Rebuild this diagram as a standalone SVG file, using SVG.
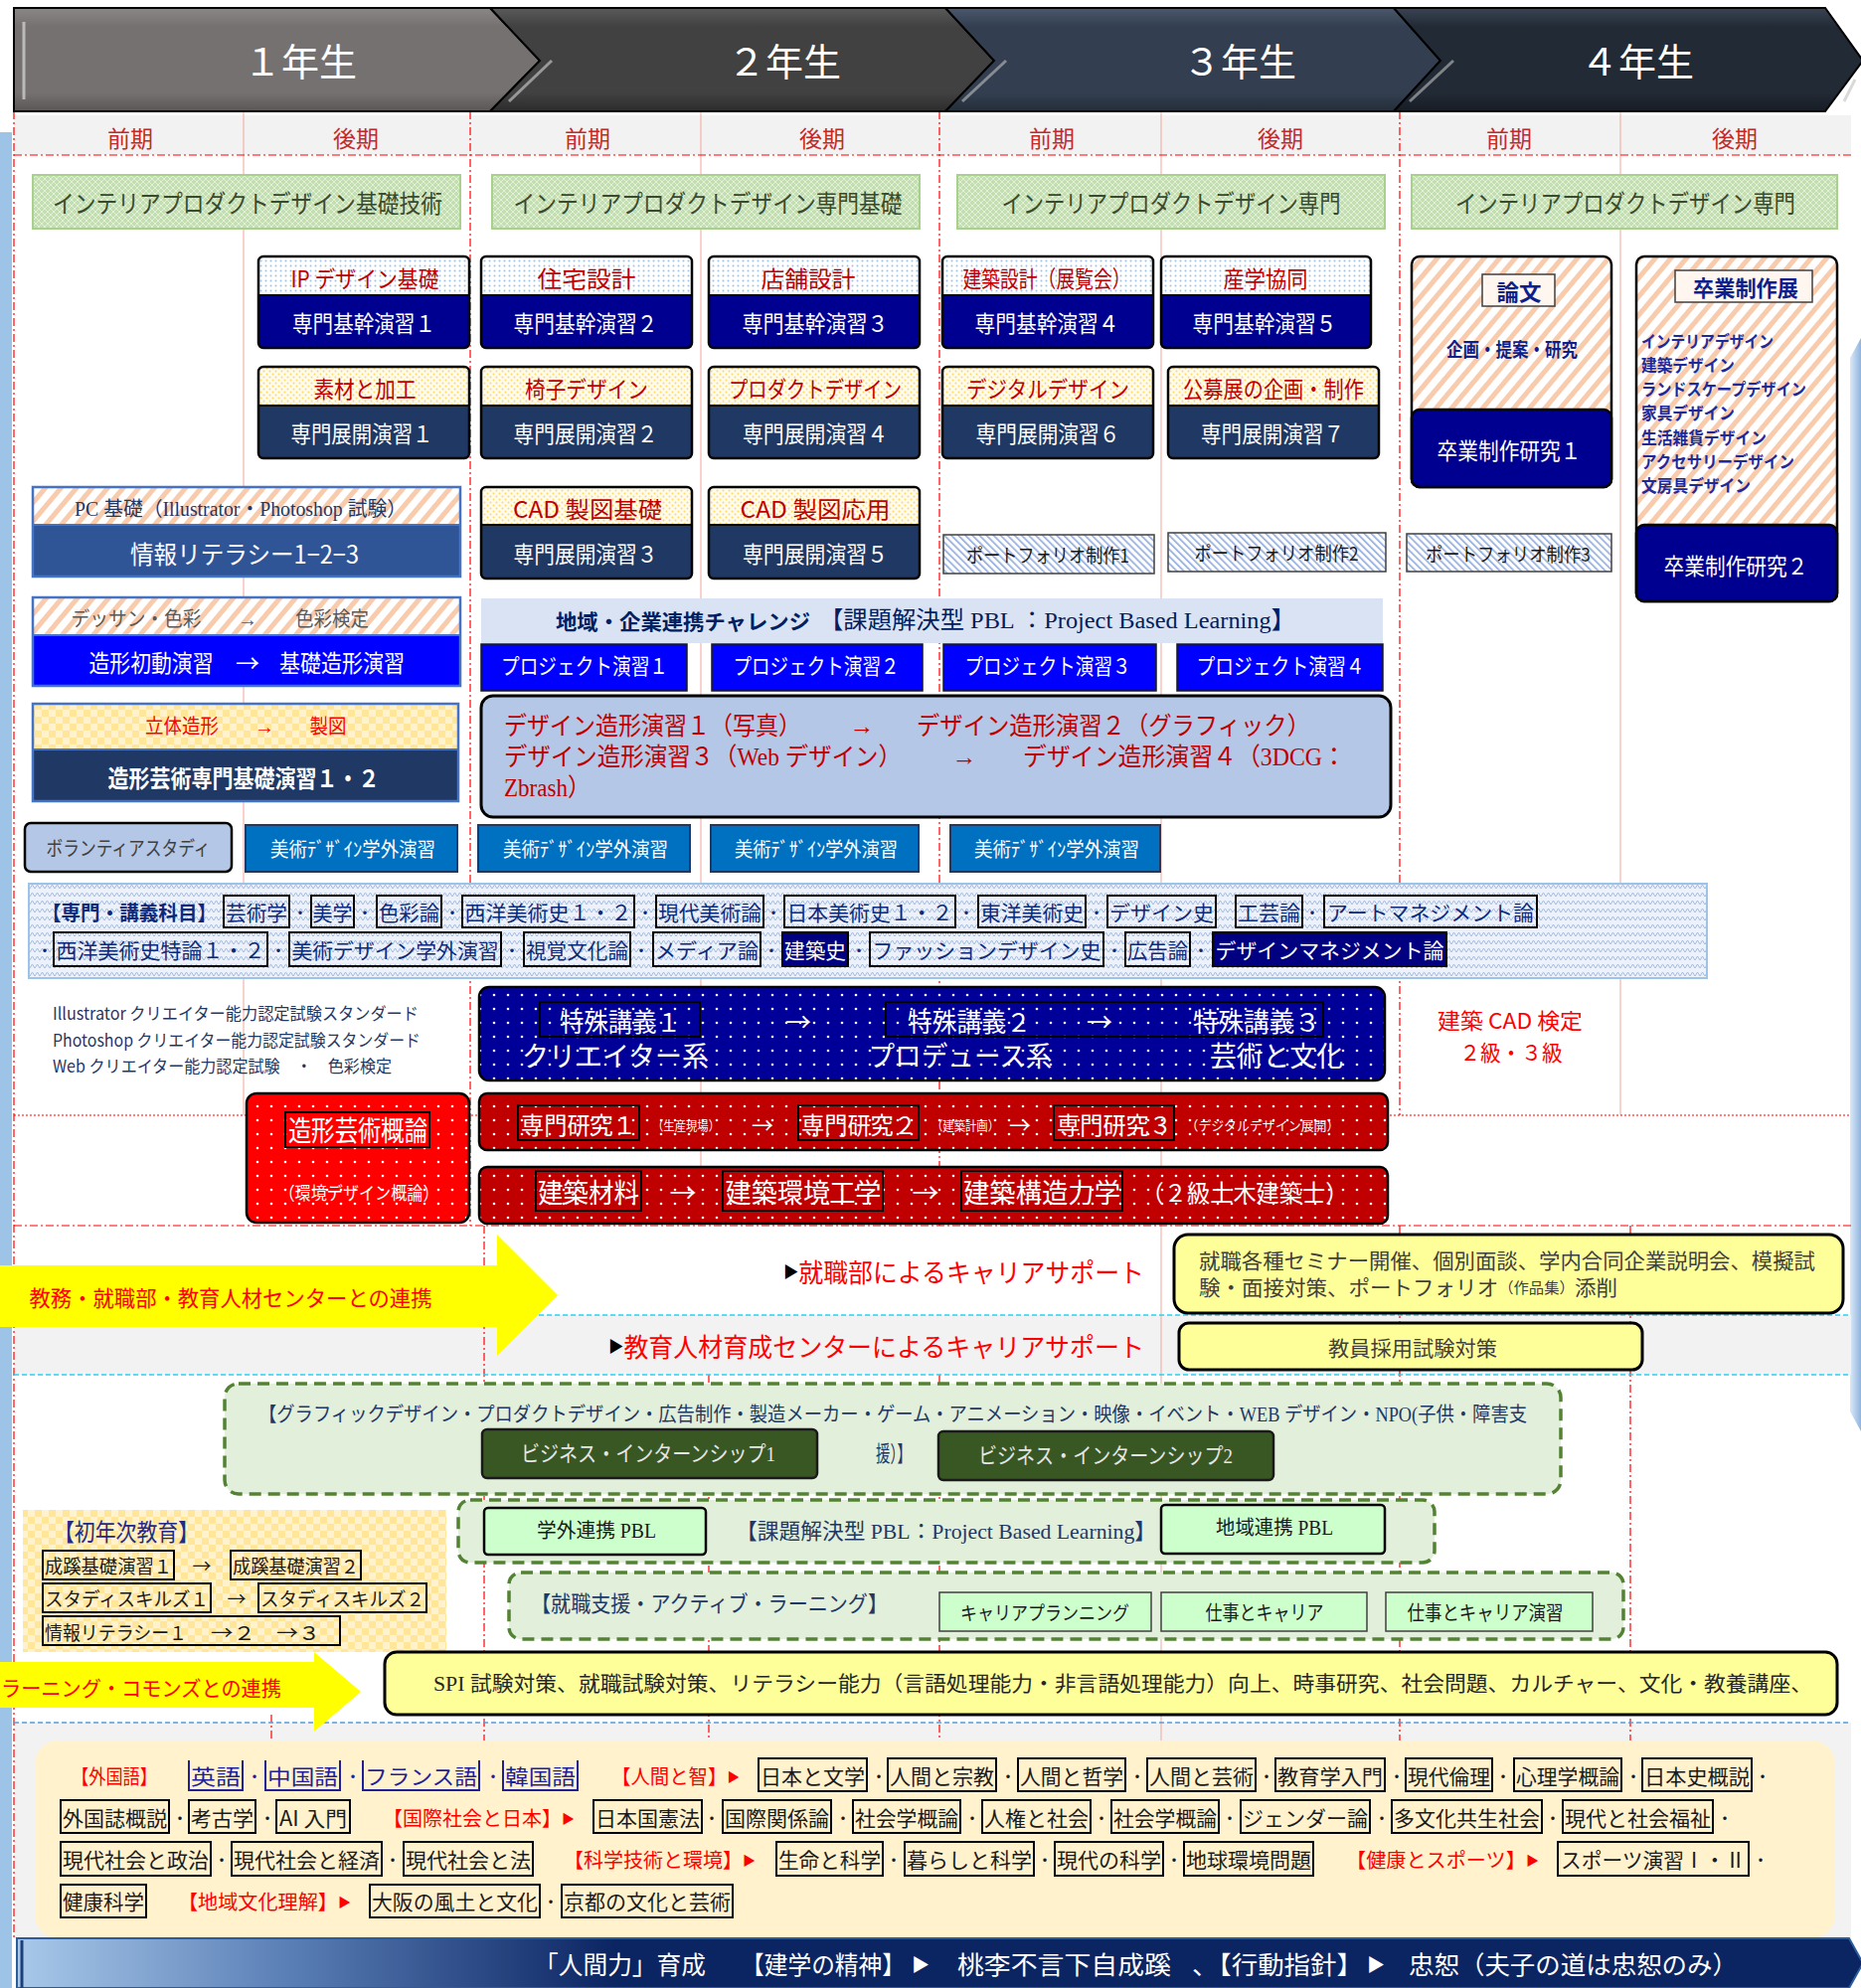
<svg xmlns="http://www.w3.org/2000/svg" width="1872" height="2000" viewBox="0 0 1872 2000">
<defs>
<linearGradient id="g1" x1="0" y1="0" x2="0" y2="1"><stop offset="0" stop-color="#8c8787"/><stop offset="0.18" stop-color="#767171"/><stop offset="0.82" stop-color="#767171"/><stop offset="1" stop-color="#5a5656"/></linearGradient>
<linearGradient id="g2" x1="0" y1="0" x2="0" y2="1"><stop offset="0" stop-color="#5a5a5a"/><stop offset="0.18" stop-color="#414141"/><stop offset="0.82" stop-color="#414141"/><stop offset="1" stop-color="#2c2c2c"/></linearGradient>
<linearGradient id="g3" x1="0" y1="0" x2="0" y2="1"><stop offset="0" stop-color="#4a586d"/><stop offset="0.18" stop-color="#333f50"/><stop offset="0.82" stop-color="#333f50"/><stop offset="1" stop-color="#242d39"/></linearGradient>
<linearGradient id="g4" x1="0" y1="0" x2="0" y2="1"><stop offset="0" stop-color="#3a4454"/><stop offset="0.18" stop-color="#222a35"/><stop offset="0.82" stop-color="#222a35"/><stop offset="1" stop-color="#171c24"/></linearGradient>
<linearGradient id="gBan" gradientUnits="userSpaceOnUse" x1="17" y1="0" x2="620" y2="0"><stop offset="0" stop-color="#a9c9ea"/><stop offset="0.45" stop-color="#5a7fb6"/><stop offset="1" stop-color="#0b2462"/></linearGradient>
<linearGradient id="gRight" x1="0" y1="0" x2="1" y2="0"><stop offset="0" stop-color="#dbe9f7"/><stop offset="1" stop-color="#8fb4de"/></linearGradient>
<pattern id="pGreen" width="6" height="6" patternUnits="userSpaceOnUse"><rect width="6" height="6" fill="#c3deb0"/><path d="M0 3 L3 0 L6 3 L3 6 Z" fill="none" stroke="#e6f2dd" stroke-width="0.9"/></pattern>
<pattern id="pBlueDot" width="5" height="5" patternUnits="userSpaceOnUse"><rect width="5" height="5" fill="#ffffff"/><circle cx="2.5" cy="2.5" r="1" fill="#9dc3e6"/></pattern>
<pattern id="pYelDot" width="6" height="6" patternUnits="userSpaceOnUse"><rect width="6" height="6" fill="#fffbea"/><circle cx="1.5" cy="1.5" r="1" fill="#ffd966"/><circle cx="4.5" cy="4.5" r="1" fill="#ffd966"/></pattern>
<pattern id="pOrStripe" width="12" height="12" patternUnits="userSpaceOnUse" patternTransform="rotate(40)"><rect width="12" height="12" fill="#ffffff"/><rect width="5" height="12" fill="#f8cbad"/></pattern>
<pattern id="pBlueStripe" width="5" height="5" patternUnits="userSpaceOnUse" patternTransform="rotate(-45)"><rect width="5" height="5" fill="#ffffff"/><rect width="1.6" height="5" fill="#8faadc"/></pattern>
<pattern id="pChecker" width="14" height="14" patternUnits="userSpaceOnUse"><rect width="14" height="14" fill="#fff2cc"/><rect width="7" height="7" fill="#ffe699"/><rect x="7" y="7" width="7" height="7" fill="#ffe699"/></pattern>
<pattern id="pZig" width="10" height="8" patternUnits="userSpaceOnUse"><rect width="10" height="8" fill="#edf2fa"/><path d="M0 6 L2.5 2 L5 6 L7.5 2 L10 6" fill="none" stroke="#a3bce3" stroke-width="1"/></pattern>
<pattern id="pNavyDot" width="14" height="14" patternUnits="userSpaceOnUse"><rect width="14" height="14" fill="#000099"/><circle cx="7" cy="7" r="1.3" fill="#ffffff"/></pattern>
<pattern id="pRedDot" width="14" height="14" patternUnits="userSpaceOnUse"><rect width="14" height="14" fill="#ff0000"/><circle cx="7" cy="7" r="1.3" fill="#ffffff"/></pattern>
<pattern id="pDRedDot" width="14" height="14" patternUnits="userSpaceOnUse"><rect width="14" height="14" fill="#c00000"/><circle cx="7" cy="7" r="1.3" fill="#ffffff"/></pattern>
</defs>
<style>
text{font-family:"Noto Sans CJK JP","Liberation Sans",sans-serif;dominant-baseline:central}
.m{text-anchor:middle}
.sf{font-family:"Liberation Serif","Noto Sans CJK JP",serif}
.wh{fill:#ffffff}
.dr{fill:#c00000}
.rd{fill:#ff0000}
.nv{fill:#1f3864}
.bl{fill:#0d2a7a}
.bk{fill:#1a1a1a}
.gy{fill:#404040}
.dt{font-size:16px}
.yr{stroke:#ff0000;stroke-width:1.2;stroke-dasharray:8 3 2 3;fill:none}
.se{stroke:#f2a59c;stroke-width:1;fill:none}
.ib{fill:none;stroke:#000;stroke-width:2}
.ol{fill:none;stroke:#000;stroke-width:2.5}
.dash{fill:#e2efda;stroke:#548235;stroke-width:3.5;stroke-dasharray:12 7}
</style>
<rect width="1872" height="2000" fill="#ffffff"/>

<g id="background">
<rect x="0" y="133" width="12" height="1867" fill="#9dc3e6"/>
<path d="M1861 360 L1872 340 L1872 1440 L1861 1420 Z" fill="url(#gRight)"/>
<rect x="14" y="116" width="1848" height="40" fill="#f2f2f2"/>
<rect x="14" y="1323" width="1848" height="60" fill="#f2f2f2"/>
<rect x="14" y="1733" width="1848" height="217" fill="#f2f2f2"/>
</g>

<g id="grid">
<line class="yr" x1="14" y1="112" x2="14" y2="1950"/>
<line class="yr" x1="473" y1="112" x2="473" y2="1233"/>
<line class="yr" x1="945" y1="112" x2="945" y2="1233"/>
<line class="yr" x1="945" y1="1383" x2="945" y2="1752"/>
<line class="yr" x1="1408" y1="112" x2="1408" y2="1122"/>
<line class="yr" x1="1408" y1="1233" x2="1408" y2="1752"/>
<line class="yr" x1="487" y1="1233" x2="487" y2="1752"/>
<line class="yr" x1="713" y1="1383" x2="713" y2="1752"/>
<line class="yr" x1="1640" y1="1233" x2="1640" y2="1752"/>
<line class="yr" x1="273" y1="1725" x2="273" y2="1752"/>
<line class="se" x1="245" y1="112" x2="245" y2="1122"/>
<line class="se" x1="705" y1="112" x2="705" y2="1233"/>
<line class="se" x1="1168" y1="112" x2="1168" y2="1752"/>
<line class="se" x1="1630" y1="112" x2="1630" y2="1122"/>
<line class="yr" x1="14" y1="156" x2="1862" y2="156"/>
<line x1="14" y1="1122" x2="1862" y2="1122" stroke="#ff0000" stroke-width="1.2" stroke-dasharray="2 2"/>
<line class="yr" x1="14" y1="1233" x2="1862" y2="1233"/>
<line x1="14" y1="1323" x2="1862" y2="1323" stroke="#33ccee" stroke-width="1.5" stroke-dasharray="5 3"/>
<line x1="14" y1="1383" x2="1862" y2="1383" stroke="#33ccee" stroke-width="1.5" stroke-dasharray="5 3"/>
<line x1="14" y1="1733" x2="1862" y2="1733" stroke="#5b9bd5" stroke-width="1.5" stroke-dasharray="5 3"/>
</g>

<g id="header">
<polygon points="14,8 493,8 543,61 493,112 14,112" fill="url(#g1)" stroke="#000" stroke-width="2"/>
<polygon points="493,8 951,8 1000,61 951,112 493,112 543,61" fill="url(#g2)" stroke="#000" stroke-width="2"/>
<polygon points="951,8 1402,8 1449,61 1402,112 951,112 1000,61" fill="url(#g3)" stroke="#000" stroke-width="2"/>
<polygon points="1402,8 1836,8 1874,61 1836,112 1402,112 1449,61" fill="url(#g4)" stroke="#000" stroke-width="2"/>
<line x1="24" y1="22" x2="24" y2="100" stroke="#d9d9d9" stroke-width="3" opacity="0.7"/>
<polyline points="512,102 555,61" fill="none" stroke="#bfbfbf" stroke-width="3" opacity="0.7"/>
<polyline points="968,102 1012,61" fill="none" stroke="#bfbfbf" stroke-width="3" opacity="0.6"/>
<polyline points="1418,102 1462,61" fill="none" stroke="#bfbfbf" stroke-width="3" opacity="0.6"/>
<polyline points="1855,102 1866,80" fill="none" stroke="#bfbfbf" stroke-width="3" opacity="0.6"/>
<text class="m wh" x="302" y="59" font-size="38">１年生</text>
<text class="m wh" x="789" y="59" font-size="38">２年生</text>
<text class="m wh" x="1247" y="59" font-size="38">３年生</text>
<text class="m wh" x="1647" y="59" font-size="38">４年生</text>
</g>

<g id="semesters" fill="#c62828" font-size="23">
<text class="m" x="131" y="138" textLength="46" lengthAdjust="spacingAndGlyphs">前期</text>
<text class="m" x="358" y="138" textLength="46" lengthAdjust="spacingAndGlyphs">後期</text>
<text class="m" x="591" y="138" textLength="46" lengthAdjust="spacingAndGlyphs">前期</text>
<text class="m" x="827" y="138" textLength="46" lengthAdjust="spacingAndGlyphs">後期</text>
<text class="m" x="1058" y="138" textLength="46" lengthAdjust="spacingAndGlyphs">前期</text>
<text class="m" x="1288" y="138" textLength="46" lengthAdjust="spacingAndGlyphs">後期</text>
<text class="m" x="1518" y="138" textLength="46" lengthAdjust="spacingAndGlyphs">前期</text>
<text class="m" x="1745" y="138" textLength="46" lengthAdjust="spacingAndGlyphs">後期</text>
</g>

<g id="ipd-kiso">
<rect x="33" y="176" width="430" height="54" fill="url(#pGreen)" stroke="#a9d18e" stroke-width="2"/>
<text class="m" x="249" y="203" font-size="25" fill="#3a4a2e" textLength="392" lengthAdjust="spacingAndGlyphs">インテリアプロダクトデザイン基礎技術</text>
</g>
<g id="ipd-senmonkiso">
<rect x="495" y="176" width="430" height="54" fill="url(#pGreen)" stroke="#a9d18e" stroke-width="2"/>
<text class="m" x="712" y="203" font-size="25" fill="#3a4a2e" textLength="391" lengthAdjust="spacingAndGlyphs">インテリアプロダクトデザイン専門基礎</text>
</g>
<g id="ipd-senmon3">
<rect x="963" y="176" width="430" height="54" fill="url(#pGreen)" stroke="#a9d18e" stroke-width="2"/>
<text class="m" x="1178" y="203" font-size="25" fill="#3a4a2e" textLength="341" lengthAdjust="spacingAndGlyphs">インテリアプロダクトデザイン専門</text>
</g>
<g id="ipd-senmon4">
<rect x="1420" y="176" width="428" height="54" fill="url(#pGreen)" stroke="#a9d18e" stroke-width="2"/>
<text class="m" x="1635" y="203" font-size="25" fill="#3a4a2e" textLength="342" lengthAdjust="spacingAndGlyphs">インテリアプロダクトデザイン専門</text>
</g>

<g id="kikan1">
<rect x="260" y="258" width="212" height="92" rx="5" fill="#000090"/>
<rect x="261" y="259" width="210" height="38" fill="url(#pBlueDot)"/>
<rect class="ol" x="260" y="258" width="212" height="92" rx="5"/>
<line x1="260" y1="297" x2="472" y2="297" stroke="#000" stroke-width="2"/>
<text class="m dr" x="367" y="279" font-size="23" textLength="149" lengthAdjust="spacingAndGlyphs">IP デザイン基礎</text>
<text class="m wh" x="366" y="324" font-size="23" textLength="144" lengthAdjust="spacingAndGlyphs">専門基幹演習１</text>
</g>
<g id="kikan2">
<rect x="484" y="258" width="212" height="92" rx="5" fill="#000090"/>
<rect x="485" y="259" width="210" height="38" fill="url(#pBlueDot)"/>
<rect class="ol" x="484" y="258" width="212" height="92" rx="5"/>
<line x1="484" y1="297" x2="696" y2="297" stroke="#000" stroke-width="2"/>
<text class="m dr" x="590" y="279" font-size="23" textLength="99" lengthAdjust="spacingAndGlyphs">住宅設計</text>
<text class="m wh" x="589" y="324" font-size="23" textLength="145" lengthAdjust="spacingAndGlyphs">専門基幹演習２</text>
</g>
<g id="kikan3">
<rect x="713" y="258" width="212" height="92" rx="5" fill="#000090"/>
<rect x="714" y="259" width="210" height="38" fill="url(#pBlueDot)"/>
<rect class="ol" x="713" y="258" width="212" height="92" rx="5"/>
<line x1="713" y1="297" x2="925" y2="297" stroke="#000" stroke-width="2"/>
<text class="m dr" x="813" y="279" font-size="23" textLength="95" lengthAdjust="spacingAndGlyphs">店舗設計</text>
<text class="m wh" x="820" y="324" font-size="23" textLength="147" lengthAdjust="spacingAndGlyphs">専門基幹演習３</text>
</g>
<g id="kikan4">
<rect x="948" y="258" width="212" height="92" rx="5" fill="#000090"/>
<rect x="949" y="259" width="210" height="38" fill="url(#pBlueDot)"/>
<rect class="ol" x="948" y="258" width="212" height="92" rx="5"/>
<line x1="948" y1="297" x2="1160" y2="297" stroke="#000" stroke-width="2"/>
<text class="m dr" x="1053" y="279" font-size="23" textLength="169" lengthAdjust="spacingAndGlyphs">建築設計（展覧会）</text>
<text class="m wh" x="1053" y="324" font-size="23" textLength="145" lengthAdjust="spacingAndGlyphs">専門基幹演習４</text>
</g>
<g id="kikan5">
<rect x="1168" y="258" width="211" height="92" rx="5" fill="#000090"/>
<rect x="1169" y="259" width="209" height="38" fill="url(#pBlueDot)"/>
<rect class="ol" x="1168" y="258" width="211" height="92" rx="5"/>
<line x1="1168" y1="297" x2="1379" y2="297" stroke="#000" stroke-width="2"/>
<text class="m dr" x="1273" y="279" font-size="23" textLength="85" lengthAdjust="spacingAndGlyphs">産学協同</text>
<text class="m wh" x="1272" y="324" font-size="23" textLength="145" lengthAdjust="spacingAndGlyphs">専門基幹演習５</text>
</g>

<g id="tenkai1">
<rect x="260" y="369" width="212" height="92" rx="5" fill="#1f3864"/>
<rect x="261" y="370" width="210" height="38" fill="url(#pYelDot)"/>
<rect class="ol" x="260" y="369" width="212" height="92" rx="5"/>
<line x1="260" y1="408" x2="472" y2="408" stroke="#000" stroke-width="2"/>
<text class="m dr" x="367" y="390" font-size="23" textLength="103" lengthAdjust="spacingAndGlyphs">素材と加工</text>
<text class="m wh" x="364" y="435" font-size="23" textLength="143" lengthAdjust="spacingAndGlyphs">専門展開演習１</text>
</g>
<g id="tenkai2">
<rect x="484" y="369" width="212" height="92" rx="5" fill="#1f3864"/>
<rect x="485" y="370" width="210" height="38" fill="url(#pYelDot)"/>
<rect class="ol" x="484" y="369" width="212" height="92" rx="5"/>
<line x1="484" y1="408" x2="696" y2="408" stroke="#000" stroke-width="2"/>
<text class="m dr" x="590" y="390" font-size="23" textLength="124" lengthAdjust="spacingAndGlyphs">椅子デザイン</text>
<text class="m wh" x="589" y="435" font-size="23" textLength="145" lengthAdjust="spacingAndGlyphs">専門展開演習２</text>
</g>
<g id="tenkai4">
<rect x="713" y="369" width="212" height="92" rx="5" fill="#1f3864"/>
<rect x="714" y="370" width="210" height="38" fill="url(#pYelDot)"/>
<rect class="ol" x="713" y="369" width="212" height="92" rx="5"/>
<line x1="713" y1="408" x2="925" y2="408" stroke="#000" stroke-width="2"/>
<text class="m dr" x="820" y="390" font-size="23" textLength="174" lengthAdjust="spacingAndGlyphs">プロダクトデザイン</text>
<text class="m wh" x="820" y="435" font-size="23" textLength="146" lengthAdjust="spacingAndGlyphs">専門展開演習４</text>
</g>
<g id="tenkai6">
<rect x="948" y="369" width="212" height="92" rx="5" fill="#1f3864"/>
<rect x="949" y="370" width="210" height="38" fill="url(#pYelDot)"/>
<rect class="ol" x="948" y="369" width="212" height="92" rx="5"/>
<line x1="948" y1="408" x2="1160" y2="408" stroke="#000" stroke-width="2"/>
<text class="m dr" x="1054" y="390" font-size="23" textLength="164" lengthAdjust="spacingAndGlyphs">デジタルデザイン</text>
<text class="m wh" x="1054" y="435" font-size="23" textLength="145" lengthAdjust="spacingAndGlyphs">専門展開演習６</text>
</g>
<g id="tenkai7">
<rect x="1175" y="369" width="212" height="92" rx="5" fill="#1f3864"/>
<rect x="1176" y="370" width="210" height="38" fill="url(#pYelDot)"/>
<rect class="ol" x="1175" y="369" width="212" height="92" rx="5"/>
<line x1="1175" y1="408" x2="1387" y2="408" stroke="#000" stroke-width="2"/>
<text class="m dr" x="1281" y="390" font-size="23" textLength="182" lengthAdjust="spacingAndGlyphs">公募展の企画・制作</text>
<text class="m wh" x="1280" y="435" font-size="23" textLength="144" lengthAdjust="spacingAndGlyphs">専門展開演習７</text>
</g>
<g id="tenkai3">
<rect x="484" y="490" width="212" height="92" rx="5" fill="#1f3864"/>
<rect x="485" y="491" width="210" height="37" fill="url(#pYelDot)"/>
<rect class="ol" x="484" y="490" width="212" height="92" rx="5"/>
<line x1="484" y1="528" x2="696" y2="528" stroke="#000" stroke-width="2"/>
<text class="m dr" x="591" y="511" font-size="23" textLength="150" lengthAdjust="spacingAndGlyphs">CAD 製図基礎</text>
<text class="m wh" x="589" y="556" font-size="23" textLength="145" lengthAdjust="spacingAndGlyphs">専門展開演習３</text>
</g>
<g id="tenkai5">
<rect x="713" y="490" width="212" height="92" rx="5" fill="#1f3864"/>
<rect x="714" y="491" width="210" height="37" fill="url(#pYelDot)"/>
<rect class="ol" x="713" y="490" width="212" height="92" rx="5"/>
<line x1="713" y1="528" x2="925" y2="528" stroke="#000" stroke-width="2"/>
<text class="m dr" x="820" y="511" font-size="23" textLength="151" lengthAdjust="spacingAndGlyphs">CAD 製図応用</text>
<text class="m wh" x="820" y="556" font-size="23" textLength="146" lengthAdjust="spacingAndGlyphs">専門展開演習５</text>
</g>

<g id="pc-kiso">
<rect x="33" y="490" width="430" height="38" fill="url(#pOrStripe)"/>
<rect x="33" y="528" width="430" height="52" fill="#2f5597"/>
<rect x="33" y="490" width="430" height="90" fill="none" stroke="#4472c4" stroke-width="2.5"/>
<line x1="33" y1="528" x2="463" y2="528" stroke="#4472c4" stroke-width="2"/>
<text class="m sf nv" x="242" y="512" font-size="20" textLength="334" lengthAdjust="spacingAndGlyphs">PC 基礎（Illustrator・Photoshop 試験）</text>
<text class="m wh" x="246" y="556" font-size="25" textLength="230" lengthAdjust="spacingAndGlyphs">情報リテラシー1−2−3</text>
</g>
<g id="zoukei-shodou">
<rect x="33" y="601" width="430" height="38" fill="url(#pOrStripe)"/>
<rect x="33" y="639" width="430" height="51" fill="#0000ff"/>
<rect x="33" y="601" width="430" height="89" fill="none" stroke="#4472c4" stroke-width="2.5"/>
<line x1="33" y1="639" x2="463" y2="639" stroke="#4472c4" stroke-width="2"/>
<text class="m sf" fill="#595959" x="137" y="623" font-size="20" textLength="131" lengthAdjust="spacingAndGlyphs">デッサン・色彩</text>
<text class="m sf" fill="#595959" x="249" y="623" font-size="20">→</text>
<text class="m sf" fill="#595959" x="334" y="623" font-size="20" textLength="74" lengthAdjust="spacingAndGlyphs">色彩検定</text>
<text class="m wh" x="152" y="665" font-size="24" textLength="125" lengthAdjust="spacingAndGlyphs">造形初動演習</text>
<text class="m wh" x="249" y="665" font-size="24">→</text>
<text class="m wh" x="344" y="665" font-size="24" textLength="126" lengthAdjust="spacingAndGlyphs">基礎造形演習</text>
</g>
<g id="zoukei-kiso">
<rect x="33" y="708" width="428" height="46" fill="url(#pChecker)"/>
<rect x="33" y="754" width="428" height="52" fill="#1f3864"/>
<rect x="33" y="708" width="428" height="98" fill="none" stroke="#4472c4" stroke-width="2.5"/>
<line x1="33" y1="754" x2="461" y2="754" stroke="#4472c4" stroke-width="2"/>
<text class="m sf rd" x="183" y="731" font-size="20" textLength="74" lengthAdjust="spacingAndGlyphs">立体造形</text>
<text class="m sf rd" x="266" y="731" font-size="20">→</text>
<text class="m sf rd" x="330" y="731" font-size="20" textLength="37" lengthAdjust="spacingAndGlyphs">製図</text>
<text class="m wh" x="245" y="781" font-size="24" font-weight="700" textLength="273" lengthAdjust="spacingAndGlyphs">造形芸術専門基礎演習１・２</text>
</g>

<g id="chiiki-challenge">
<rect x="484" y="602" width="907" height="45" fill="#dae3f3"/>
<text x="559" y="624" font-size="21" font-weight="700" fill="#002060" textLength="256" lengthAdjust="spacingAndGlyphs">地域・企業連携チャレンジ</text>
<text class="sf" x="824" y="624" font-size="24" fill="#002060" textLength="479" lengthAdjust="spacingAndGlyphs">【課題解決型 PBL ：Project Based Learning】</text>
</g>
<g id="project1"><rect x="484" y="648" width="207" height="47" fill="#0000ff" stroke="#1a1a1a" stroke-width="1.5"/><text class="m sf wh" x="588" y="670" font-size="22" textLength="168" lengthAdjust="spacingAndGlyphs">プロジェクト演習１</text></g>
<g id="project2"><rect x="716" y="648" width="212" height="47" fill="#0000ff" stroke="#1a1a1a" stroke-width="1.5"/><text class="m sf wh" x="821" y="670" font-size="22" textLength="167" lengthAdjust="spacingAndGlyphs">プロジェクト演習２</text></g>
<g id="project3"><rect x="949" y="648" width="214" height="47" fill="#0000ff" stroke="#1a1a1a" stroke-width="1.5"/><text class="m sf wh" x="1054" y="670" font-size="22" textLength="167" lengthAdjust="spacingAndGlyphs">プロジェクト演習３</text></g>
<g id="project4"><rect x="1184" y="648" width="207" height="47" fill="#0000ff" stroke="#1a1a1a" stroke-width="1.5"/><text class="m sf wh" x="1288" y="670" font-size="22" textLength="169" lengthAdjust="spacingAndGlyphs">プロジェクト演習４</text></g>

<g id="portfolio1"><rect x="949" y="538" width="212" height="39" fill="url(#pBlueStripe)" stroke="#404040" stroke-width="1.5"/><text class="m bk" x="1054" y="557" font-size="19" textLength="164" lengthAdjust="spacingAndGlyphs">ポートフォリオ制作1</text></g>
<g id="portfolio2"><rect x="1175" y="536" width="219" height="39" fill="url(#pBlueStripe)" stroke="#404040" stroke-width="1.5"/><text class="m bk" x="1284" y="555" font-size="19" textLength="165" lengthAdjust="spacingAndGlyphs">ポートフォリオ制作2</text></g>
<g id="portfolio3"><rect x="1415" y="537" width="206" height="38" fill="url(#pBlueStripe)" stroke="#404040" stroke-width="1.5"/><text class="m bk" x="1517" y="556" font-size="19" textLength="166" lengthAdjust="spacingAndGlyphs">ポートフォリオ制作3</text></g>

<g id="sotsuken1">
<rect x="1420" y="258" width="201" height="232" rx="8" fill="url(#pOrStripe)" stroke="#000" stroke-width="2.5"/>
<rect x="1420" y="412" width="201" height="78" rx="8" fill="#000090" stroke="#000" stroke-width="2.5"/>
<rect x="1491" y="276" width="73" height="32" fill="#fff6ef" stroke="#404040" stroke-width="1.5"/>
<text class="m" x="1528" y="292" font-size="22" font-weight="700" fill="#0d1f8c" textLength="45" lengthAdjust="spacingAndGlyphs">論文</text>
<text class="m" x="1521" y="350" font-size="19" font-weight="700" fill="#0d1f8c" textLength="132" lengthAdjust="spacingAndGlyphs">企画・提案・研究</text>
<text class="m wh" x="1518" y="452" font-size="23" textLength="145" lengthAdjust="spacingAndGlyphs">卒業制作研究１</text>
</g>
<g id="sotsuken2">
<rect x="1646" y="258" width="202" height="347" rx="8" fill="url(#pOrStripe)" stroke="#000" stroke-width="2.5"/>
<rect x="1646" y="528" width="202" height="77" rx="8" fill="#000090" stroke="#000" stroke-width="2.5"/>
<rect x="1685" y="272" width="138" height="32" fill="#fff6ef" stroke="#404040" stroke-width="1.5"/>
<text class="m" x="1756" y="288" font-size="22" font-weight="700" fill="#0d1f8c" textLength="106" lengthAdjust="spacingAndGlyphs">卒業制作展</text>
<g font-size="17" font-weight="700" fill="#1c2a9a">
<text x="1651" y="342" textLength="133" lengthAdjust="spacingAndGlyphs">インテリアデザイン</text>
<text x="1651" y="366" textLength="94" lengthAdjust="spacingAndGlyphs">建築デザイン</text>
<text x="1651" y="390" textLength="166" lengthAdjust="spacingAndGlyphs">ランドスケープデザイン</text>
<text x="1651" y="414" textLength="94" lengthAdjust="spacingAndGlyphs">家具デザイン</text>
<text x="1651" y="439" textLength="126" lengthAdjust="spacingAndGlyphs">生活雑貨デザイン</text>
<text x="1651" y="463" textLength="154" lengthAdjust="spacingAndGlyphs">アクセサリーデザイン</text>
<text x="1651" y="487" textLength="110" lengthAdjust="spacingAndGlyphs">文房具デザイン</text>
</g>
<text class="m wh" x="1746" y="568" font-size="23" textLength="145" lengthAdjust="spacingAndGlyphs">卒業制作研究２</text>
</g>

<g id="design-zoukei">
<rect x="484" y="700" width="915" height="122" rx="12" fill="#b4c7e7" stroke="#000" stroke-width="3"/>
<g class="dr" font-size="25">
<text class="sf" x="507" y="730" textLength="299" lengthAdjust="spacingAndGlyphs">デザイン造形演習１（写真）</text>
<text class="m sf" x="867" y="730">→</text>
<text class="sf" x="922" y="730" textLength="396" lengthAdjust="spacingAndGlyphs">デザイン造形演習２（グラフィック）</text>
<text class="sf" x="507" y="761" textLength="400" lengthAdjust="spacingAndGlyphs">デザイン造形演習３（Web デザイン）</text>
<text class="m sf" x="970" y="761">→</text>
<text class="sf" x="1029" y="761" textLength="325" lengthAdjust="spacingAndGlyphs">デザイン造形演習４（3DCG：</text>
<text class="sf" x="507" y="792" textLength="87" lengthAdjust="spacingAndGlyphs">Zbrash）</text>
</g>
</g>

<g id="volunteer"><rect x="25" y="828" width="208" height="49" rx="6" fill="#b4c7e7" stroke="#000" stroke-width="2.5"/><text class="m gy" x="129" y="852" font-size="20" textLength="165" lengthAdjust="spacingAndGlyphs">ボランティアスタディ</text></g>
<g id="gakugai1"><rect x="247" y="830" width="213" height="47" fill="#0070c0" stroke="#1f3864" stroke-width="2"/><text class="m wh" x="355" y="853" font-size="20" textLength="166" lengthAdjust="spacingAndGlyphs">美術ﾃﾞｻﾞｲﾝ学外演習</text></g>
<g id="gakugai2"><rect x="481" y="830" width="213" height="47" fill="#0070c0" stroke="#1f3864" stroke-width="2"/><text class="m wh" x="589" y="853" font-size="20" textLength="166" lengthAdjust="spacingAndGlyphs">美術ﾃﾞｻﾞｲﾝ学外演習</text></g>
<g id="gakugai3"><rect x="715" y="830" width="209" height="47" fill="#0070c0" stroke="#1f3864" stroke-width="2"/><text class="m wh" x="821" y="853" font-size="20" textLength="164" lengthAdjust="spacingAndGlyphs">美術ﾃﾞｻﾞｲﾝ学外演習</text></g>
<g id="gakugai4"><rect x="956" y="830" width="211" height="47" fill="#0070c0" stroke="#1f3864" stroke-width="2"/><text class="m wh" x="1063" y="853" font-size="20" textLength="166" lengthAdjust="spacingAndGlyphs">美術ﾃﾞｻﾞｲﾝ学外演習</text></g>

<g id="senmon-kougi" font-size="21">
<rect x="29" y="889" width="1688" height="95" fill="url(#pZig)" stroke="#9dc3e6" stroke-width="2"/>
<text class="bl" x="42" y="917" font-size="20" font-weight="700" textLength="176" lengthAdjust="spacingAndGlyphs">【専門・講義科目】</text>
<g class="bl">
<rect class="ib" x="225" y="901" width="66" height="32"/><text class="m" x="258" y="917" textLength="62" lengthAdjust="spacingAndGlyphs">芸術学</text>
<text class="m dt" x="302" y="917">・</text>
<rect class="ib" x="313" y="901" width="43" height="32"/><text class="m" x="334.5" y="917" textLength="40" lengthAdjust="spacingAndGlyphs">美学</text>
<text class="m dt" x="367" y="917">・</text>
<rect class="ib" x="379" y="901" width="65" height="32"/><text class="m" x="411.5" y="917" textLength="61" lengthAdjust="spacingAndGlyphs">色彩論</text>
<text class="m dt" x="455" y="917">・</text>
<rect class="ib" x="465" y="901" width="173" height="32"/><text class="m" x="551.5" y="917" textLength="168" lengthAdjust="spacingAndGlyphs">西洋美術史１・２</text>
<text class="m dt" x="649" y="917">・</text>
<rect class="ib" x="660" y="901" width="108" height="32"/><text class="m" x="714" y="917" textLength="104" lengthAdjust="spacingAndGlyphs">現代美術論</text>
<text class="m dt" x="778" y="917">・</text>
<rect class="ib" x="789" y="901" width="172" height="32"/><text class="m" x="875" y="917" textLength="167" lengthAdjust="spacingAndGlyphs">日本美術史１・２</text>
<text class="m dt" x="972" y="917">・</text>
<rect class="ib" x="984" y="901" width="108" height="32"/><text class="m" x="1038" y="917" textLength="104" lengthAdjust="spacingAndGlyphs">東洋美術史</text>
<text class="m dt" x="1103" y="917">・</text>
<rect class="ib" x="1114" y="901" width="109" height="32"/><text class="m" x="1168.5" y="917" textLength="105" lengthAdjust="spacingAndGlyphs">デザイン史</text>
<rect class="ib" x="1243" y="901" width="67" height="32"/><text class="m" x="1276.5" y="917" textLength="63" lengthAdjust="spacingAndGlyphs">工芸論</text>
<text class="m dt" x="1320" y="917">・</text>
<rect class="ib" x="1332" y="901" width="214" height="32"/><text class="m" x="1439" y="917" textLength="208" lengthAdjust="spacingAndGlyphs">アートマネジメント論</text>
<text class="m dt" x="45" y="955">・</text>
<rect class="ib" x="54" y="938" width="215" height="34"/><text class="m" x="161.5" y="955" textLength="210" lengthAdjust="spacingAndGlyphs">西洋美術史特論１・２</text>
<text class="m dt" x="280" y="955">・</text>
<rect class="ib" x="291" y="938" width="213" height="34"/><text class="m" x="397.5" y="955" textLength="208" lengthAdjust="spacingAndGlyphs">美術デザイン学外演習</text>
<text class="m dt" x="515" y="955">・</text>
<rect class="ib" x="527" y="938" width="107" height="34"/><text class="m" x="580.5" y="955" textLength="103" lengthAdjust="spacingAndGlyphs">視覚文化論</text>
<text class="m dt" x="645" y="955">・</text>
<rect class="ib" x="657" y="938" width="108" height="34"/><text class="m" x="711" y="955" textLength="104" lengthAdjust="spacingAndGlyphs">メディア論</text>
<text class="m dt" x="776" y="955">・</text>
<rect x="787" y="938" width="66" height="34" fill="#000080" stroke="#000" stroke-width="2"/><text class="m wh" x="820" y="955" textLength="62" lengthAdjust="spacingAndGlyphs">建築史</text>
<text class="m dt" x="864" y="955">・</text>
<rect class="ib" x="875" y="938" width="235" height="34"/><text class="m" x="992.5" y="955" textLength="230" lengthAdjust="spacingAndGlyphs">ファッションデザイン史</text>
<text class="m dt" x="1121" y="955">・</text>
<rect class="ib" x="1132" y="938" width="65" height="34"/><text class="m" x="1164.5" y="955" textLength="61" lengthAdjust="spacingAndGlyphs">広告論</text>
<text class="m dt" x="1208" y="955">・</text>
<rect x="1220" y="938" width="235" height="34" fill="#000080" stroke="#000" stroke-width="2"/><text class="m wh" x="1337.5" y="955" textLength="230" lengthAdjust="spacingAndGlyphs">デザインマネジメント論</text>
</g>
</g>

<g id="certifications" class="sf nv" font-size="17">
<text x="53" y="1018" textLength="368" lengthAdjust="spacingAndGlyphs">Illustrator クリエイター能力認定試験スタンダード</text>
<text x="53" y="1045" textLength="370" lengthAdjust="spacingAndGlyphs">Photoshop クリエイター能力認定試験スタンダード</text>
<text x="53" y="1071" textLength="341" lengthAdjust="spacingAndGlyphs">Web クリエイター能力認定試験　・　色彩検定</text>
</g>

<g id="tokushu-kougi">
<rect x="482" y="993" width="911" height="94" rx="10" fill="url(#pNavyDot)" stroke="#000" stroke-width="2.5"/>
<rect class="ib" x="543" y="1008" width="161" height="35"/>
<rect class="ib" x="891" y="1008" width="440" height="35"/>
<g class="wh" font-size="26">
<text class="m" x="624" y="1026" textLength="122" lengthAdjust="spacingAndGlyphs">特殊講義１</text>
<text class="m" x="803" y="1026">→</text>
<text class="m" x="975" y="1026" textLength="124" lengthAdjust="spacingAndGlyphs">特殊講義２</text>
<text class="m" x="1106" y="1026">→</text>
<text class="m" x="1264" y="1026" textLength="128" lengthAdjust="spacingAndGlyphs">特殊講義３</text>
</g>
<g class="wh" font-size="28">
<text class="m" x="619" y="1061" textLength="188" lengthAdjust="spacingAndGlyphs">クリエイター系</text>
<text class="m" x="966" y="1061" textLength="185" lengthAdjust="spacingAndGlyphs">プロデュース系</text>
<text class="m" x="1284" y="1061" textLength="134" lengthAdjust="spacingAndGlyphs">芸術と文化</text>
</g>
</g>

<g id="kenchiku-cad">
<text class="m rd" x="1519" y="1025" font-size="22" textLength="146" lengthAdjust="spacingAndGlyphs">建築 CAD 検定</text>
<text class="m rd" x="1520" y="1057" font-size="22" textLength="103" lengthAdjust="spacingAndGlyphs">２級・３級</text>
</g>

<g id="zoukei-gairon">
<rect x="248" y="1100" width="224" height="130" rx="10" fill="url(#pRedDot)" stroke="#000" stroke-width="2.5"/>
<rect class="ib" x="287" y="1119" width="145" height="35"/>
<text class="m wh" x="360" y="1136" font-size="28" textLength="140" lengthAdjust="spacingAndGlyphs">造形芸術概論</text>
<text class="m wh" x="361" y="1199" font-size="18" textLength="161" lengthAdjust="spacingAndGlyphs">（環境デザイン概論）</text>
</g>

<g id="senmon-kenkyu">
<rect x="482" y="1100" width="914" height="57" rx="8" fill="url(#pDRedDot)" stroke="#000" stroke-width="2.5"/>
<rect class="ib" x="521" y="1112" width="122" height="35"/>
<rect class="ib" x="803" y="1112" width="121" height="35"/>
<rect class="ib" x="1060" y="1112" width="121" height="35"/>
<g class="wh">
<text class="m" x="582" y="1130" font-size="24" textLength="116" lengthAdjust="spacingAndGlyphs">専門研究１</text>
<text class="m" x="690" y="1131" font-size="13" textLength="68" lengthAdjust="spacingAndGlyphs">（生産現場）</text>
<text class="m" x="767" y="1130" font-size="22">→</text>
<text class="m" x="864" y="1130" font-size="24" textLength="116" lengthAdjust="spacingAndGlyphs">専門研究２</text>
<text class="m" x="971" y="1131" font-size="13" textLength="68" lengthAdjust="spacingAndGlyphs">（建築計画）</text>
<text class="m" x="1026" y="1130" font-size="22">→</text>
<text class="m" x="1121" y="1130" font-size="24" textLength="116" lengthAdjust="spacingAndGlyphs">専門研究３</text>
<text class="m" x="1270" y="1131" font-size="13" textLength="155" lengthAdjust="spacingAndGlyphs">（デジタルデザイン展開）</text>
</g>
</g>

<g id="kenchiku-zairyou">
<rect x="482" y="1174" width="914" height="57" rx="8" fill="url(#pDRedDot)" stroke="#000" stroke-width="2.5"/>
<rect class="ib" x="539" y="1178" width="106" height="40"/>
<rect class="ib" x="727" y="1178" width="161" height="40"/>
<rect class="ib" x="967" y="1178" width="162" height="40"/>
<g class="wh" font-size="27">
<text class="m" x="592" y="1198" textLength="102" lengthAdjust="spacingAndGlyphs">建築材料</text>
<text class="m" x="687" y="1198">→</text>
<text class="m" x="808" y="1198" textLength="157" lengthAdjust="spacingAndGlyphs">建築環境工学</text>
<text class="m" x="931" y="1198">→</text>
<text class="m" x="1048" y="1198" textLength="158" lengthAdjust="spacingAndGlyphs">建築構造力学</text>
<text class="m" x="1252" y="1198" font-size="24" textLength="209" lengthAdjust="spacingAndGlyphs">（２級土木建築士）</text>
</g>
</g>

<g id="connectors">
<polygon points="0,1273 500,1273 500,1242 561,1303 500,1364 500,1335 0,1335" fill="#ffff00"/>
<polygon points="0,1672 316,1672 316,1662 363,1702 316,1742 316,1718 0,1718" fill="#ffff00"/>
</g>

<g id="renkei-labels">
<text class="m rd" x="232" y="1304" font-size="22" textLength="405" lengthAdjust="spacingAndGlyphs">教務・就職部・教育人材センターとの連携</text>
<text class="rd" x="1" y="1697" font-size="21" textLength="282" lengthAdjust="spacingAndGlyphs">ラーニング・コモンズとの連携</text>
</g>

<g id="career-support">
<text x="788" y="1278" font-size="26" textLength="363" lengthAdjust="spacingAndGlyphs"><tspan fill="#000" font-size="16">▶</tspan><tspan class="rd">就職部によるキャリアサポート</tspan></text>
<text x="612" y="1353" font-size="26" textLength="539" lengthAdjust="spacingAndGlyphs"><tspan fill="#000" font-size="16">▶</tspan><tspan class="rd">教育人材育成センターによるキャリアサポート</tspan></text>
</g>
<g id="seminar">
<rect x="1181" y="1242" width="673" height="79" rx="14" fill="#ffff99" stroke="#000" stroke-width="3"/>
<text class="gy" x="1206" y="1267" font-size="21" textLength="620" lengthAdjust="spacingAndGlyphs">就職各種セミナー開催、個別面談、学内合同企業説明会、模擬試</text>
<text class="gy" x="1206" y="1294" font-size="21" textLength="421" lengthAdjust="spacingAndGlyphs">験・面接対策、ポートフォリオ<tspan font-size="15">（作品集）</tspan>添削</text>
</g>
<g id="kyoin">
<rect x="1186" y="1331" width="466" height="47" rx="10" fill="#ffff99" stroke="#000" stroke-width="3"/>
<text class="m gy" x="1421" y="1355" font-size="21" textLength="170" lengthAdjust="spacingAndGlyphs">教員採用試験対策</text>
</g>

<g id="business">
<rect class="dash" x="226" y="1392" width="1344" height="111" rx="14"/>
<text class="sf nv" x="260" y="1423" font-size="20" textLength="1276" lengthAdjust="spacingAndGlyphs">【グラフィックデザイン・プロダクトデザイン・広告制作・製造メーカー・ゲーム・アニメーション・映像・イベント・WEB デザイン・NPO(子供・障害支</text>
<text class="sf nv" x="881" y="1462" font-size="22" textLength="36" lengthAdjust="spacingAndGlyphs">援）】</text>
</g>
<g id="internship1"><rect x="485" y="1438" width="337" height="49" rx="5" fill="#385723" stroke="#1a1a1a" stroke-width="2.5"/><text class="m sf" fill="#e6e6e6" x="652" y="1462" font-size="22" textLength="256" lengthAdjust="spacingAndGlyphs">ビジネス・インターンシップ1</text></g>
<g id="internship2"><rect x="944" y="1440" width="337" height="49" rx="5" fill="#385723" stroke="#1a1a1a" stroke-width="2.5"/><text class="m sf" fill="#e6e6e6" x="1112" y="1464" font-size="22" textLength="256" lengthAdjust="spacingAndGlyphs">ビジネス・インターンシップ2</text></g>

<g id="pbl">
<rect class="dash" x="461" y="1509" width="982" height="63" rx="12"/>
<text class="sf nv" x="740" y="1540" font-size="22" textLength="423" lengthAdjust="spacingAndGlyphs">【課題解決型 PBL：Project Based Learning】</text>
</g>
<g id="gakugai-pbl"><rect x="487" y="1517" width="223" height="47" rx="4" fill="#ccffcc" stroke="#000" stroke-width="2.5"/><text class="m sf bk" x="600" y="1540" font-size="20" textLength="120" lengthAdjust="spacingAndGlyphs">学外連携 PBL</text></g>
<g id="chiiki-pbl"><rect x="1168" y="1514" width="225" height="49" rx="4" fill="#ccffcc" stroke="#000" stroke-width="2.5"/><text class="m sf bk" x="1282" y="1537" font-size="20" textLength="118" lengthAdjust="spacingAndGlyphs">地域連携 PBL</text></g>

<g id="career-active">
<rect class="dash" x="512" y="1582" width="1121" height="67" rx="12"/>
<text class="sf nv" x="534" y="1613" font-size="22" textLength="359" lengthAdjust="spacingAndGlyphs">【就職支援・アクティブ・ラーニング】</text>
</g>
<g id="career-planning"><rect x="945" y="1602" width="213" height="39" fill="#ccffcc" stroke="#404040" stroke-width="1.5"/><text class="m bk" x="1051" y="1621" font-size="19" textLength="170" lengthAdjust="spacingAndGlyphs">キャリアプランニング</text></g>
<g id="shigoto-career"><rect x="1168" y="1602" width="207" height="39" fill="#ccffcc" stroke="#404040" stroke-width="1.5"/><text class="m bk" x="1272" y="1621" font-size="20" textLength="119" lengthAdjust="spacingAndGlyphs">仕事とキャリア</text></g>
<g id="shigoto-career-ensyu"><rect x="1394" y="1602" width="208" height="39" fill="#ccffcc" stroke="#404040" stroke-width="1.5"/><text class="m bk" x="1494" y="1621" font-size="20" textLength="157" lengthAdjust="spacingAndGlyphs">仕事とキャリア演習</text></g>

<g id="shonenji">
<rect x="23" y="1519" width="426" height="143" fill="url(#pChecker)"/>
<text x="54" y="1539" font-size="24" fill="#1f2a8a" textLength="146" lengthAdjust="spacingAndGlyphs">【初年次教育】</text>
<g class="bk" font-size="19">
<rect class="ib" x="43" y="1560" width="132" height="29"/><text class="m" x="109" y="1574" textLength="128" lengthAdjust="spacingAndGlyphs">成蹊基礎演習１</text>
<text class="m" x="203" y="1574">→</text>
<rect class="ib" x="232" y="1560" width="131" height="29"/><text class="m" x="297.5" y="1574" textLength="127" lengthAdjust="spacingAndGlyphs">成蹊基礎演習２</text>
<rect class="ib" x="43" y="1593" width="169" height="29"/><text class="m" x="127.5" y="1607" textLength="165" lengthAdjust="spacingAndGlyphs">スタディスキルズ１</text>
<text class="m" x="238" y="1607">→</text>
<rect class="ib" x="260" y="1593" width="169" height="29"/><text class="m" x="344.5" y="1607" textLength="165" lengthAdjust="spacingAndGlyphs">スタディスキルズ２</text>
<rect class="ib" x="43" y="1626" width="299" height="29"/>
<text x="45" y="1641" textLength="143" lengthAdjust="spacingAndGlyphs">情報リテラシー１</text>
<text x="212" y="1641" textLength="45" lengthAdjust="spacingAndGlyphs">→２</text>
<text x="278" y="1641" textLength="44" lengthAdjust="spacingAndGlyphs">→３</text>
</g>
</g>

<g id="spi">
<rect x="387" y="1662" width="1461" height="63" rx="12" fill="#ffff99" stroke="#000" stroke-width="3"/>
<text class="sf" fill="#262626" x="436" y="1694" font-size="21" textLength="1387" lengthAdjust="spacingAndGlyphs">SPI 試験対策、就職試験対策、リテラシー能力（言語処理能力・非言語処理能力）向上、時事研究、社会問題、カルチャー、文化・教養講座、</text>
</g>

<g id="kyouyou">
<rect x="35" y="1751" width="1811" height="199" rx="24" fill="#fff2cc"/>
<g class="sf" font-size="21">
<text class="m rd" x="115" y="1786" font-size="20" textLength="86" lengthAdjust="spacingAndGlyphs">【外国語】</text>
<g fill="#1f1f99">
<path d="M190 1771 V1801 H244 V1771 M267 1771 V1801 H342 V1771 M365 1771 V1801 H482 V1771 M506 1771 V1801 H581 V1771" fill="none" stroke="#1f1f99" stroke-width="2"/>
<text class="m" x="217" y="1786" textLength="50" lengthAdjust="spacingAndGlyphs">英語</text>
<text class="m dt" x="256" y="1786">・</text>
<text class="m" x="304.5" y="1786" textLength="71" lengthAdjust="spacingAndGlyphs">中国語</text>
<text class="m dt" x="355" y="1786">・</text>
<text class="m" x="423.5" y="1786" textLength="113" lengthAdjust="spacingAndGlyphs">フランス語</text>
<text class="m dt" x="496" y="1786">・</text>
<text class="m" x="543.5" y="1786" textLength="71" lengthAdjust="spacingAndGlyphs">韓国語</text>
</g>
<text class="rd" x="615" y="1786" font-size="20" textLength="129" lengthAdjust="spacingAndGlyphs">【人間と智】<tspan font-size="13">▶</tspan></text>
<g class="bk">
<rect class="ib" x="763" y="1769" width="109" height="33"/><text class="m" x="817.5" y="1786" textLength="105" lengthAdjust="spacingAndGlyphs">日本と文学</text>
<text class="m dt" x="884" y="1786">・</text>
<rect class="ib" x="893" y="1769" width="109" height="33"/><text class="m" x="947.5" y="1786" textLength="105" lengthAdjust="spacingAndGlyphs">人間と宗教</text>
<text class="m dt" x="1014" y="1786">・</text>
<rect class="ib" x="1024" y="1769" width="108" height="33"/><text class="m" x="1078" y="1786" textLength="104" lengthAdjust="spacingAndGlyphs">人間と哲学</text>
<text class="m dt" x="1144" y="1786">・</text>
<rect class="ib" x="1154" y="1769" width="109" height="33"/><text class="m" x="1208.5" y="1786" textLength="105" lengthAdjust="spacingAndGlyphs">人間と芸術</text>
<text class="m dt" x="1274" y="1786">・</text>
<rect class="ib" x="1283" y="1769" width="110" height="33"/><text class="m" x="1338" y="1786" textLength="106" lengthAdjust="spacingAndGlyphs">教育学入門</text>
<text class="m dt" x="1405" y="1786">・</text>
<rect class="ib" x="1414" y="1769" width="87" height="33"/><text class="m" x="1457.5" y="1786" textLength="83" lengthAdjust="spacingAndGlyphs">現代倫理</text>
<text class="m dt" x="1512" y="1786">・</text>
<rect class="ib" x="1523" y="1769" width="108" height="33"/><text class="m" x="1577" y="1786" textLength="104" lengthAdjust="spacingAndGlyphs">心理学概論</text>
<text class="m dt" x="1643" y="1786">・</text>
<rect class="ib" x="1652" y="1769" width="110" height="33"/><text class="m" x="1707" y="1786" textLength="106" lengthAdjust="spacingAndGlyphs">日本史概説</text>
<text class="m dt" x="1773" y="1786">・</text>

<rect class="ib" x="61" y="1811" width="109" height="33"/><text class="m" x="115.5" y="1828" textLength="105" lengthAdjust="spacingAndGlyphs">外国誌概説</text>
<text class="m dt" x="181" y="1828">・</text>
<rect class="ib" x="190" y="1811" width="67" height="33"/><text class="m" x="223.5" y="1828" textLength="63" lengthAdjust="spacingAndGlyphs">考古学</text>
<text class="m dt" x="269" y="1828">・</text>
<rect class="ib" x="278" y="1811" width="74" height="33"/><text class="m" x="315" y="1828" textLength="68" lengthAdjust="spacingAndGlyphs">AI 入門</text>
</g>
<text class="rd" x="385" y="1828" font-size="20" textLength="193" lengthAdjust="spacingAndGlyphs">【国際社会と日本】<tspan font-size="13">▶</tspan></text>
<g class="bk">
<rect class="ib" x="597" y="1811" width="109" height="33"/><text class="m" x="651.5" y="1828" textLength="105" lengthAdjust="spacingAndGlyphs">日本国憲法</text>
<text class="m dt" x="716" y="1828">・</text>
<rect class="ib" x="727" y="1811" width="109" height="33"/><text class="m" x="781.5" y="1828" textLength="105" lengthAdjust="spacingAndGlyphs">国際関係論</text>
<text class="m dt" x="848" y="1828">・</text>
<rect class="ib" x="858" y="1811" width="108" height="33"/><text class="m" x="912" y="1828" textLength="104" lengthAdjust="spacingAndGlyphs">社会学概論</text>
<text class="m dt" x="978" y="1828">・</text>
<rect class="ib" x="988" y="1811" width="109" height="33"/><text class="m" x="1042.5" y="1828" textLength="105" lengthAdjust="spacingAndGlyphs">人権と社会</text>
<text class="m dt" x="1108" y="1828">・</text>
<rect class="ib" x="1118" y="1811" width="108" height="33"/><text class="m" x="1172" y="1828" textLength="104" lengthAdjust="spacingAndGlyphs">社会学概論</text>
<text class="m dt" x="1237" y="1828">・</text>
<rect class="ib" x="1248" y="1811" width="130" height="33"/><text class="m" x="1313" y="1828" textLength="126" lengthAdjust="spacingAndGlyphs">ジェンダー論</text>
<text class="m dt" x="1390" y="1828">・</text>
<rect class="ib" x="1400" y="1811" width="151" height="33"/><text class="m" x="1475.5" y="1828" textLength="147" lengthAdjust="spacingAndGlyphs">多文化共生社会</text>
<text class="m dt" x="1562" y="1828">・</text>
<rect class="ib" x="1572" y="1811" width="151" height="33"/><text class="m" x="1647.5" y="1828" textLength="147" lengthAdjust="spacingAndGlyphs">現代と社会福祉</text>
<text class="m dt" x="1735" y="1828">・</text>

<rect class="ib" x="61" y="1853" width="151" height="34"/><text class="m" x="136.5" y="1870" textLength="147" lengthAdjust="spacingAndGlyphs">現代社会と政治</text>
<text class="m dt" x="223" y="1870">・</text>
<rect class="ib" x="233" y="1853" width="151" height="34"/><text class="m" x="308.5" y="1870" textLength="147" lengthAdjust="spacingAndGlyphs">現代社会と経済</text>
<text class="m dt" x="395" y="1870">・</text>
<rect class="ib" x="406" y="1853" width="130" height="34"/><text class="m" x="471" y="1870" textLength="126" lengthAdjust="spacingAndGlyphs">現代社会と法</text>
</g>
<text class="rd" x="567" y="1870" font-size="20" textLength="193" lengthAdjust="spacingAndGlyphs">【科学技術と環境】<tspan font-size="13">▶</tspan></text>
<g class="bk">
<rect class="ib" x="781" y="1853" width="107" height="34"/><text class="m" x="834.5" y="1870" textLength="103" lengthAdjust="spacingAndGlyphs">生命と科学</text>
<text class="m dt" x="899" y="1870">・</text>
<rect class="ib" x="910" y="1853" width="130" height="34"/><text class="m" x="975" y="1870" textLength="126" lengthAdjust="spacingAndGlyphs">暮らしと科学</text>
<text class="m dt" x="1051" y="1870">・</text>
<rect class="ib" x="1061" y="1853" width="109" height="34"/><text class="m" x="1115.5" y="1870" textLength="105" lengthAdjust="spacingAndGlyphs">現代の科学</text>
<text class="m dt" x="1181" y="1870">・</text>
<rect class="ib" x="1191" y="1853" width="130" height="34"/><text class="m" x="1256" y="1870" textLength="126" lengthAdjust="spacingAndGlyphs">地球環境問題</text>
</g>
<text class="rd" x="1354" y="1870" font-size="20" textLength="194" lengthAdjust="spacingAndGlyphs">【健康とスポーツ】<tspan font-size="13">▶</tspan></text>
<g class="bk">
<rect class="ib" x="1567" y="1853" width="192" height="34"/><text class="m" x="1663" y="1870" textLength="186" lengthAdjust="spacingAndGlyphs">スポーツ演習Ⅰ・Ⅱ</text>
<text class="m dt" x="1771" y="1870">・</text>

<rect class="ib" x="61" y="1896" width="86" height="33"/><text class="m" x="104" y="1912" textLength="82" lengthAdjust="spacingAndGlyphs">健康科学</text>
</g>
<text class="rd" x="179" y="1912" font-size="20" textLength="174" lengthAdjust="spacingAndGlyphs">【地域文化理解】<tspan font-size="13">▶</tspan></text>
<g class="bk">
<rect class="ib" x="372" y="1896" width="171" height="33"/><text class="m" x="457.5" y="1912" textLength="167" lengthAdjust="spacingAndGlyphs">大阪の風土と文化</text>
<text class="m dt" x="554" y="1912">・</text>
<rect class="ib" x="565" y="1896" width="172" height="33"/><text class="m" x="651" y="1912" textLength="168" lengthAdjust="spacingAndGlyphs">京都の文化と芸術</text>
</g>
</g>
</g>

<g id="banner">
<polygon points="17,1950 1860,1950 1874,1975 1860,2000 17,2000" fill="url(#gBan)" stroke="#2e5c9a" stroke-width="2"/>
<line x1="22" y1="1952" x2="22" y2="2000" stroke="#1f3f7a" stroke-width="3"/>
<g class="wh" font-size="25">
<text class="m" x="623.5" y="1975" textLength="173" lengthAdjust="spacingAndGlyphs">「人間力」育成</text>
<text class="m" x="828" y="1975" textLength="166" lengthAdjust="spacingAndGlyphs">【建学の精神】</text>
<text class="m" x="926" y="1975" font-size="18">▶</text>
<text class="m" x="1070.5" y="1975" textLength="215" lengthAdjust="spacingAndGlyphs">桃李不言下自成蹊</text>
<text class="m" x="1285" y="1975" textLength="172" lengthAdjust="spacingAndGlyphs">、【行動指針】</text>
<text class="m" x="1384" y="1975" font-size="18">▶</text>
<text class="m" x="1582.5" y="1975" textLength="331" lengthAdjust="spacingAndGlyphs">忠恕（夫子の道は忠恕のみ）</text>
</g>
</g>
</svg>
